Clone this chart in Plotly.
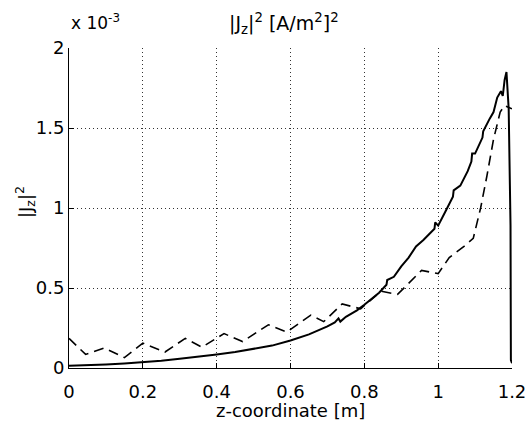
import plotly.graph_objects as go

# ---- data (values in A^2/m^4, axis shows x 10^-3) ----
solid_z = [0.000, 0.020, 0.050, 0.100, 0.150, 0.200, 0.250, 0.300, 0.350, 0.400,
           0.450, 0.500, 0.550, 0.600, 0.650, 0.700, 0.720, 0.730, 0.735, 0.750,
           0.780, 0.800, 0.820, 0.840, 0.860, 0.862, 0.880, 0.900, 0.920, 0.940,
           0.960, 0.990, 0.992, 1.000, 1.020, 1.040, 1.042, 1.060, 1.080, 1.090,
           1.092, 1.100, 1.120, 1.122, 1.140, 1.150, 1.160, 1.170, 1.175, 1.180,
           1.185, 1.190, 1.191, 1.196, 1.197, 1.200]
solid_v = [0.014, 0.015, 0.018, 0.022, 0.028, 0.035, 0.045, 0.058, 0.070, 0.085,
           0.100, 0.118, 0.140, 0.172, 0.210, 0.260, 0.285, 0.310, 0.290, 0.320,
           0.360, 0.395, 0.430, 0.470, 0.520, 0.550, 0.570, 0.635, 0.690, 0.760,
           0.800, 0.870, 0.910, 0.890, 0.980, 1.070, 1.110, 1.140, 1.230, 1.290,
           1.340, 1.340, 1.440, 1.480, 1.560, 1.600, 1.690, 1.730, 1.700, 1.800,
           1.850, 1.620, 1.620, 0.890, 0.050, 0.030]
solid_v = [v * 1e-3 for v in solid_v]

dash_z = [0.000, 0.045, 0.095, 0.150, 0.200, 0.260, 0.315, 0.360, 0.420, 0.470,
          0.540, 0.590, 0.655, 0.690, 0.740, 0.790, 0.845, 0.890, 0.955, 1.000,
          1.030, 1.070, 1.095, 1.115, 1.132, 1.150, 1.168, 1.180, 1.200]
dash_v = [0.185, 0.085, 0.125, 0.065, 0.155, 0.100, 0.185, 0.130, 0.215, 0.165,
          0.270, 0.225, 0.330, 0.290, 0.400, 0.370, 0.480, 0.460, 0.610, 0.590,
          0.690, 0.760, 0.810, 1.000, 1.200, 1.430, 1.600, 1.640, 1.620]
dash_v = [v * 1e-3 for v in dash_v]

x_ticks = [0, 0.2, 0.4, 0.6, 0.8, 1.0, 1.2]
x_ticklabels = ["0", "0.2", "0.4", "0.6", "0.8", "1", "1.2"]
y_ticks = [0, 0.5e-3, 1.0e-3, 1.5e-3, 2.0e-3]
y_ticklabels = ["0", "0.5", "1", "1.5", "2"]

FONT = "DejaVu Sans"
W, H = 527, 428
L, T, R, B = 69, 48, 15, 60
PW, PH = W - L - R, H - T - B


def py(page_y):
    return (H - B - page_y) / PH


def px(page_x):
    return (page_x - L) / PW


fig = go.Figure()
fig.add_trace(go.Scatter(x=dash_z, y=dash_v, mode="lines",
                         line=dict(color="black", width=1.6, dash="10px,6px"),
                         showlegend=False))
fig.add_trace(go.Scatter(x=solid_z, y=solid_v, mode="lines",
                         line=dict(color="black", width=2),
                         showlegend=False))

fig.update_layout(
    width=W, height=H,
    margin=dict(l=L, r=R, t=T, b=B, autoexpand=False),
    paper_bgcolor="white", plot_bgcolor="white",
    font=dict(family=FONT, size=18, color="black"),
    xaxis=dict(range=[0, 1.2], tickvals=x_ticks, ticktext=x_ticklabels,
               showgrid=True, gridcolor="#333", gridwidth=1, griddash="1px,3px",
               showline=True, linecolor="black", linewidth=1,
               ticks="inside", ticklen=5, tickcolor="black",
               ticklabelstandoff=7,
               zeroline=False, mirror=False, automargin=False),
    yaxis=dict(range=[0, 2e-3], tickvals=y_ticks, ticktext=y_ticklabels,
               showgrid=True, gridcolor="#333", gridwidth=1, griddash="1px,3px",
               showline=True, linecolor="black", linewidth=1,
               ticks="inside", ticklen=5, tickcolor="black",
               zeroline=False, mirror=False, automargin=False),
    annotations=[
        dict(text="|J<sub>z</sub>|<sup>2</sup> [A/m<sup>2</sup>]<sup>2</sup>",
             xref="paper", yref="paper", x=px(290), y=py(23), xshift=-6,
             xanchor="center", yanchor="middle", showarrow=False,
             font=dict(family=FONT, size=19, color="black")),
        dict(text="x 10<sup>-3</sup>", xref="paper", yref="paper",
             x=px(69), y=py(22), xanchor="left", yanchor="middle",
             showarrow=False, font=dict(family=FONT, size=17, color="black")),
        dict(text="|J<sub>z</sub>|<sup>2</sup>", xref="paper", yref="paper",
             x=px(25), y=py(202), xanchor="center", yanchor="middle",
             textangle=-90, showarrow=False,
             font=dict(family=FONT, size=18, color="black")),
        dict(text="z-coordinate [m]", xref="paper", yref="paper",
             x=px(290), y=py(410), xanchor="center", yanchor="middle",
             showarrow=False, font=dict(family=FONT, size=18, color="black")),
    ],
)

fig.write_html("out.html",
               config={"displayModeBar": False},
               post_script="document.body.style.margin='0px';"
                           "document.body.style.overflow='hidden';")
